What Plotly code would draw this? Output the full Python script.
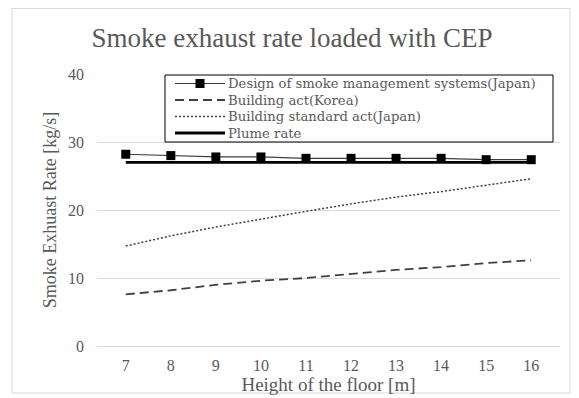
import plotly.graph_objects as go

heights = ["7", "8", "9", "10", "11", "12", "13", "14", "15", "16"]
design_japan = [28.2, 28.0, 27.8, 27.8, 27.6, 27.6, 27.6, 27.6, 27.4, 27.4]
building_korea = [7.6, 8.2, 9.0, 9.6, 10.0, 10.6, 11.2, 11.6, 12.2, 12.6]
building_std_japan = [14.7, 16.2, 17.5, 18.7, 19.8, 20.9, 21.9, 22.7, 23.6, 24.6]
plume_rate = [27.0, 27.0, 27.0, 27.0, 27.0, 27.0, 27.0, 27.0, 27.0, 27.0]
series_names = ["Design of smoke management systems(Japan)", "Building act(Korea)",
                "Building standard act(Japan)", "Plume rate"]

font_family = "Liberation Serif, Times New Roman, serif"
legend_family = "DejaVu Serif, serif"
gray = "#595959"
OFF = 8  # page body margin offset
W, H = 579 - OFF, 398 - OFF
L, T = 97 - OFF, 74 - OFF
R, B = W - (560 - OFF), H - (346 - OFF)
PW, PH = W - L - R, H - T - B

def px(sx):
    return (sx - OFF - L) / PW

def py(sy):
    return (H - B - (sy - OFF)) / PH

styles = [
    dict(color="#404040", width=1.2),
    dict(color="#404040", width=1.8, dash="9px,5px"),
    dict(color="#404040", width=1.5, dash="2px,2px"),
    dict(color="black", width=2.8),
]

fig = go.Figure()
fig.add_trace(go.Scatter(x=heights, y=design_japan, mode="lines+markers",
                         name=series_names[0], line=styles[0],
                         marker=dict(symbol="square", size=9, color="black")))
fig.add_trace(go.Scatter(x=heights, y=building_korea, mode="lines",
                         name=series_names[1], line=styles[1]))
fig.add_trace(go.Scatter(x=heights, y=building_std_japan, mode="lines",
                         name=series_names[2], line=styles[2]))
fig.add_trace(go.Scatter(x=heights, y=plume_rate, mode="lines",
                         name=series_names[3], line=styles[3]))

fig.update_layout(
    width=W, height=H,
    margin=dict(l=L, r=R, t=T, b=B),
    paper_bgcolor="white", plot_bgcolor="white",
    font=dict(family=font_family, color=gray, size=16),
    showlegend=False,
    title=dict(text="Smoke exhaust rate loaded with CEP", x=(292 - OFF) / W,
               xanchor="center", y=1 - (38 - OFF) / H, yanchor="middle",
               automargin=False,
               font=dict(size=27, color=gray, family=font_family)),
    xaxis=dict(title=dict(text="Height of the floor [m]", standoff=0,
                          font=dict(size=19, color=gray)),
               automargin=False,
               showgrid=False, showline=True, linecolor="#d9d9d9", ticks="",
               ticklabelstandoff=5,
               tickfont=dict(size=16, color=gray)),
    yaxis=dict(title=dict(text="Smoke Exhuast Rate [kg/s]", standoff=6,
                          font=dict(size=18, color=gray)),
               automargin=False,
               range=[0, 40], dtick=10, showgrid=True, gridcolor="#d9d9d9",
               zeroline=False, ticks="", ticklabelstandoff=12,
               tickfont=dict(size=16, color=gray)),
)

# outer chart border
fig.add_shape(type="rect", xref="paper", yref="paper",
              x0=px(12), x1=px(570), y0=py(393), y1=py(OFF + 0.5),
              line=dict(color="#d9d9d9", width=1), layer="below")

# legend box drawn inside the plot
fig.add_shape(type="rect", xref="paper", yref="paper",
              x0=px(165), x1=px(553), y0=py(142), y1=py(75),
              line=dict(color="black", width=1), fillcolor="white", layer="above")
rows = [83.5, 100, 116.5, 133]
for name, st, ry in zip(series_names, styles, rows):
    fig.add_shape(type="line", xref="paper", yref="paper",
                  x0=px(175), x1=px(225), y0=py(ry), y1=py(ry),
                  line=st, layer="above")
    fig.add_annotation(text=name, xref="paper", yref="paper",
                       x=px(227), y=py(ry), xanchor="left", yanchor="middle",
                       showarrow=False, borderpad=0,
                       font=dict(size=13.2, color=gray, family=legend_family))
fig.add_shape(type="rect", xref="paper", yref="paper",
              x0=px(195.5), x1=px(204.5), y0=py(rows[0] + 4.5), y1=py(rows[0] - 4.5),
              line=dict(color="black", width=0), fillcolor="black", layer="above")

fig.write_html("out.html")
